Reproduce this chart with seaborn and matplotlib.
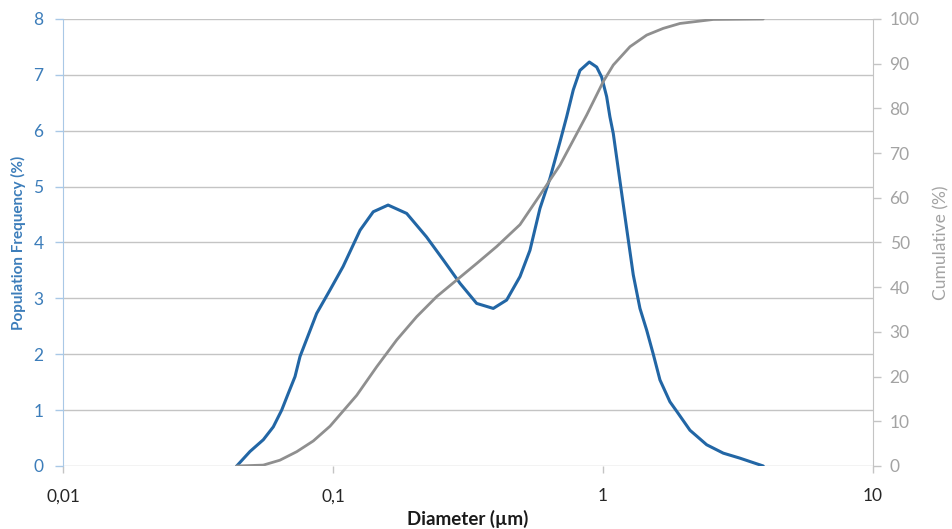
import matplotlib
matplotlib.use("Agg")
import matplotlib.pyplot as plt
import pandas as pd
import seaborn as sns
from matplotlib.ticker import FixedLocator, FuncFormatter, NullLocator

# population frequency (%) vs diameter (um)
freq_diam = [0.0440, 0.04928, 0.0552, 0.0601, 0.06457, 0.06831, 0.07234, 0.0755,
             0.0870, 0.0975, 0.109, 0.126, 0.141, 0.160, 0.1875, 0.222, 0.256,
             0.2954, 0.3405, 0.3924, 0.4398, 0.4928, 0.5365, 0.5843, 0.6364,
             0.6930, 0.7337, 0.7762, 0.8219, 0.8900, 0.9478, 0.9890, 1.032,
             1.061, 1.092, 1.156, 1.224, 1.295, 1.371, 1.452, 1.536, 1.626,
             1.770, 1.875, 2.100, 2.422, 2.790, 3.217, 3.603, 3.924]
freq_vals = [0.0, 0.26, 0.47, 0.70, 1.00, 1.30, 1.60, 1.96,
             2.73, 3.15, 3.57, 4.22, 4.55, 4.67, 4.52, 4.10, 3.69,
             3.27, 2.91, 2.82, 2.97, 3.39, 3.86, 4.61, 5.15,
             5.80, 6.25, 6.73, 7.08, 7.23, 7.14, 6.96, 6.61,
             6.25, 5.95, 5.10, 4.25, 3.42, 2.82, 2.43, 2.00, 1.54,
             1.15, 0.98, 0.64, 0.38, 0.23, 0.14, 0.06, 0.0]

# cumulative (%)
cum_diam = [0.0440, 0.0552, 0.0636, 0.0734, 0.08453, 0.0975, 0.1224, 0.1452,
            0.1722, 0.2042, 0.2422, 0.2872, 0.3405, 0.4040, 0.4928, 0.5843,
            0.6930, 0.8700, 1.0025, 1.092, 1.259, 1.452, 1.672, 1.929, 2.562,
            3.924]
cum_vals = [0.0, 0.2, 1.3, 3.2, 5.6, 8.9, 15.8, 22.2,
            28.2, 33.4, 37.9, 41.6, 45.3, 49.1, 54.0, 60.6,
            67.3, 78.5, 86.0, 89.7, 93.8, 96.4, 97.9, 99.0, 99.9,
            100.0]

x_ticks = [0.01, 0.1, 1, 10]

blue = "#2266A5"
blue_txt = "#3C7DBA"
gray = "#8F8F8F"
gray_txt = "#A3A3A3"
grid_c = "#C4C4C4"

sns.set_style("white")
plt.rcParams["font.family"] = ["Lato", "DejaVu Sans"]

freq = pd.DataFrame({"d": freq_diam, "v": freq_vals})
cum = pd.DataFrame({"d": cum_diam, "v": cum_vals})

fig = plt.figure(figsize=(9.53, 5.29), dpi=100)
ax = fig.add_axes([0.0661, 0.1191, 0.8499, 0.845])
ax2 = ax.twinx()

sns.lineplot(data=freq, x="d", y="v", ax=ax, color=blue, lw=2.2,
             sort=False, estimator=None, solid_joinstyle="round")
sns.lineplot(data=cum, x="d", y="v", ax=ax2, color=gray, lw=2.0,
             sort=False, estimator=None, solid_joinstyle="round")

ax.set_xscale("log")
ax.set_xlim(0.01, 10)
ax.set_ylim(0, 8)
ax2.set_ylim(0, 100)
ax.xaxis.set_major_locator(FixedLocator(x_ticks))
ax.xaxis.set_minor_locator(NullLocator())
ax.xaxis.set_major_formatter(FuncFormatter(lambda v, p: f"{v:g}".replace(".", ",")))
ax.set_yticks(range(0, 9))
ax2.set_yticks(range(0, 101, 10))

ax.yaxis.grid(True, color=grid_c, lw=1)
ax.set_axisbelow(True)

for a in (ax, ax2):
    for s in a.spines.values():
        s.set_visible(False)
ax.spines["left"].set_visible(True)
ax.spines["left"].set_color("#A9C8E6")
ax2.spines["right"].set_visible(True)
ax2.spines["right"].set_color(grid_c)

ax.tick_params(axis="y", labelcolor=blue_txt, color="#A9C8E6", labelsize=12.5,
               length=6, width=1, direction="out", left=True, pad=8)
ax.tick_params(axis="x", labelsize=12.5, labelcolor="#262626", color=grid_c,
               length=5, width=1, bottom=True, pad=11)
ax2.tick_params(axis="y", labelcolor=gray_txt, color=grid_c, labelsize=12.5,
                length=6, width=1, right=True, pad=6)

ax.set_xlabel("Diameter (µm)", fontsize=13.5, fontweight="bold", color="#1A1A1A",
              labelpad=4)
ax.set_ylabel("Population Frequency (%)", fontsize=11, fontweight="bold",
              color=blue_txt, labelpad=5)
ax2.set_ylabel("Cumulative (%)", fontsize=12.5, color=gray_txt, labelpad=10)

fig.savefig("out.png", dpi=100)
